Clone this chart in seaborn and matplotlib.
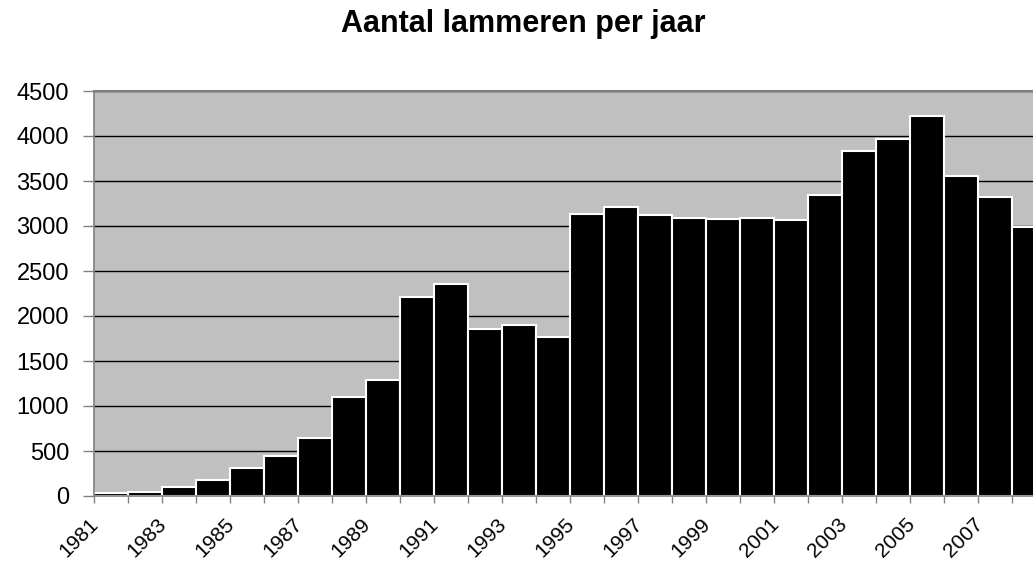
import numpy as np
import pandas as pd
import matplotlib
matplotlib.use("Agg")
import matplotlib.pyplot as plt
import matplotlib.transforms as mtransforms
import seaborn as sns

years = list(range(1981, 2009))
lambs = [30, 45, 100, 180, 310, 445, 645, 1100, 1290, 2210, 2355, 1855, 1895, 1765,
         3135, 3210, 3120, 3090, 3075, 3090, 3070, 3350, 3835, 3970, 4225, 3560, 3325, 2990]
y_ticks = [0, 500, 1000, 1500, 2000, 2500, 3000, 3500, 4000, 4500]

df = pd.DataFrame({"jaar": [str(y) for y in years], "lammeren": lambs})

sns.set_style("white")
plt.rcParams["font.family"] = ["Liberation Sans", "DejaVu Sans"]
plt.rcParams["text.color"] = "black"
plt.rcParams["xtick.color"] = "black"
plt.rcParams["ytick.color"] = "black"

fig = plt.figure(figsize=(10.33, 5.62), dpi=100)
ax = fig.add_axes([94 / 1033, 66 / 562, 952 / 1033, 405 / 562])
ax.set_facecolor("#C0C0C0")

sns.barplot(data=df, x="jaar", y="lammeren", color="black", width=1.0,
            edgecolor="white", linewidth=1.5, saturation=1, ax=ax, zorder=3)
for p in ax.patches:
    p.set_facecolor("black")

ax.set_xlim(-0.5, len(years) - 0.5)
ax.set_ylim(0, 4500)
ax.set_yticks(y_ticks)
ax.set_yticklabels([str(v) for v in y_ticks], fontsize=17)
ax.yaxis.grid(True, color="black", linewidth=1, zorder=0)
ax.set_axisbelow(True)

# ticks between the categories, label every second year
ax.set_xticks(np.arange(len(years)) - 0.5)
ax.set_xticklabels([str(y) if i % 2 == 0 else "" for i, y in enumerate(years)],
                   rotation=45, ha="right", va="top", rotation_mode="anchor", fontsize=15)
ax.tick_params(axis="x", bottom=True, length=5, width=1, color="#808080", labelcolor="black", pad=8)
ax.tick_params(axis="y", left=True, length=8, width=1, color="#808080", labelcolor="black", pad=10)

shift = mtransforms.ScaledTranslation(-5 / 100, 0, fig.dpi_scale_trans)
for lab in ax.get_xticklabels():
    lab.set_transform(lab.get_transform() + shift)

for s in ["top", "right"]:
    ax.spines[s].set_visible(False)
for s in ["left", "bottom"]:
    ax.spines[s].set_color("#808080")
    ax.spines[s].set_linewidth(1.2)
    ax.spines[s].set_zorder(4)
ax.axhline(4500, color="#808080", linewidth=1.5, zorder=4, clip_on=False)

ax.set_xlabel("")
ax.set_ylabel("")
fig.text(523 / 1033, 1 - 32 / 562, "Aantal lammeren per jaar", ha="center", va="baseline",
         fontsize=22, fontweight="bold")

fig.savefig("out.png", dpi=100)
